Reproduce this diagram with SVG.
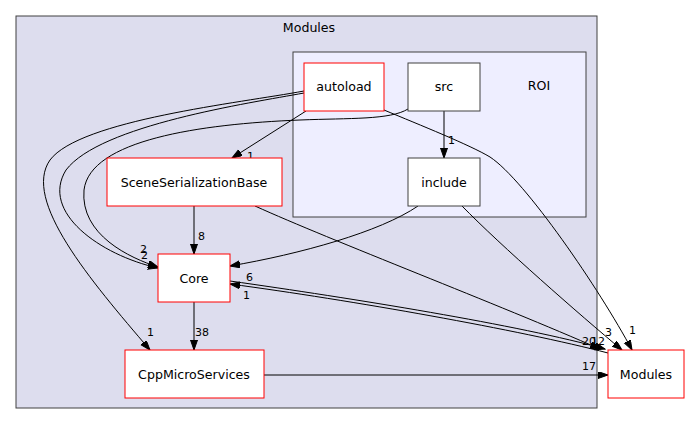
<svg xmlns="http://www.w3.org/2000/svg" width="691" height="425" viewBox="0 0 691 425">
<style>
text{font-family:"DejaVu Sans",sans-serif;font-size:11px;fill:#000}
.n{font-size:12.6px;text-anchor:middle}
.red{fill:#fff;stroke:#ff0000;stroke-width:1}
.blk{fill:#fff;stroke:#404040;stroke-width:1}
.e{fill:none;stroke:#000;stroke-width:1}
</style>
<defs>
<marker id="ah" markerUnits="userSpaceOnUse" markerWidth="11" markerHeight="8" refX="10" refY="3.5" orient="auto">
<path d="M0,0 L10,3.5 L0,7 z" fill="#000" stroke="#000" stroke-width="1"/>
</marker>
</defs>
<rect width="691" height="425" fill="#fff"/>
<g id="cluster_Modules">
<rect x="16" y="16" width="581" height="392" fill="#ddddee" stroke="#404040"/>
<text class="n" x="309" y="32">Modules</text>
</g>
<g id="cluster_ROI">
<rect x="293" y="52" width="293" height="165" fill="#eeeeff" stroke="#404040"/>
<text class="n" x="539" y="90">ROI</text>
</g>
<g id="connectors">
<path class="e" d="M444,111 L444,158" marker-end="url(#ah)"/>
<text x="448" y="144">1</text>
<path class="e" d="M306,111 L232,158" marker-end="url(#ah)"/>
<text x="247" y="160">1</text>
<path class="e" d="M194,206 L194,254" marker-end="url(#ah)"/>
<text x="198" y="240">8</text>
<path class="e" d="M194,302 L194,350" marker-end="url(#ah)"/>
<text x="195" y="336">38</text>
<path class="e" d="M264,375 L608,375" marker-end="url(#ah)"/>
<text x="582" y="370">17</text>
<path class="e" d="M304,91 C240,103 80,120 50,160 C22,200 90,280 150,350" marker-end="url(#ah)"/>
<text x="147" y="336">1</text>
<path class="e" d="M304,93 C250,103 100,125 66,170 C40,212 100,255 158,268" marker-end="url(#ah)"/>
<path class="e" d="M408,109 C390,120 350,118 300,120 C200,124 90,140 84,190 C80,235 130,258 158,267" marker-end="url(#ah)"/>
<text x="140" y="253">2</text>
<text x="141" y="259">2</text>
<path class="e" d="M384,110 C420,125 470,145 490,157 C525,180 600,290 632,350" marker-end="url(#ah)"/>
<text x="629" y="334">1</text>
<path class="e" d="M418,206 C380,232 300,254 230,266" marker-end="url(#ah)"/>
<text x="246" y="281">6</text>
<path class="e" d="M462,206 C500,245 580,315 622,350" marker-end="url(#ah)"/>
<text x="605" y="336">3</text>
<path class="e" d="M255,206 C330,240 500,305 600,349" marker-end="url(#ah)"/>
<text x="582" y="345">20</text>
<path class="e" d="M230,281 C350,298 520,325 605,349" marker-end="url(#ah)"/>
<text x="591" y="345">12</text>
<path class="e" d="M608,353 C520,330 350,300 230,284" marker-end="url(#ah)"/>
<text x="243" y="299">1</text>
</g>
<g id="node_autoload">
<rect class="red" x="304" y="63" width="80" height="48"/>
<text class="n" x="344" y="91">autoload</text>
</g>
<g id="node_src">
<rect class="blk" x="408" y="63" width="72" height="48"/>
<text class="n" x="444" y="91">src</text>
</g>
<g id="node_include">
<rect class="blk" x="408" y="158" width="72" height="48"/>
<text class="n" x="444" y="187">include</text>
</g>
<g id="node_SceneSerializationBase">
<rect class="red" x="107" y="158" width="175" height="48"/>
<text class="n" x="194" y="187">SceneSerializationBase</text>
</g>
<g id="node_Core">
<rect class="red" x="158" y="254" width="72" height="48"/>
<text class="n" x="194" y="283">Core</text>
</g>
<g id="node_CppMicroServices">
<rect class="red" x="125" y="350" width="139" height="48"/>
<text class="n" x="194" y="379">CppMicroServices</text>
</g>
<g id="node_Modules">
<rect class="red" x="608" y="350" width="76" height="48"/>
<text class="n" x="646" y="379">Modules</text>
</g>
</svg>
